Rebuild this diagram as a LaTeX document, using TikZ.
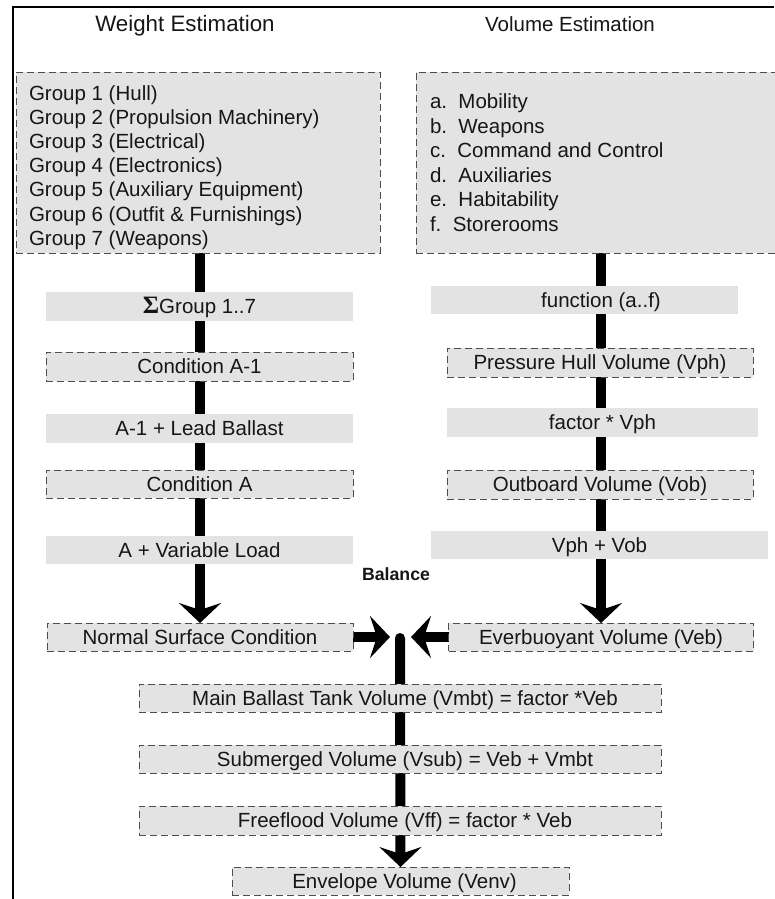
\documentclass[tikz,border=0pt]{standalone}
\usepackage{fontspec}
\setmainfont{Liberation Sans}
\newfontfamily\sigmafont{Liberation Serif}
\usetikzlibrary{arrows.meta,backgrounds}
\definecolor{boxgray}{HTML}{E3E3E3}
\definecolor{edgegray}{HTML}{4D4D4D}
\definecolor{ink}{HTML}{161616}
\newcommand{\bodyfont}{\fontsize{20.5}{24.3}\selectfont}
\tikzset{
  every node/.style={inner sep=0pt, outer sep=0pt, text=ink, font=\bodyfont},
  caption/.style={text height=18.55pt, text depth=4.35pt},
  flatbox/.style={caption, fill=boxgray},
  dashbox/.style={flatbox, draw=edgegray, line width=1pt, dash pattern=on 7pt off 4pt},
  listline/.style={anchor=base west},
  heading/.style={anchor=base},
  flow/.style={line width=10pt, -{Stealth[length=20pt,width=42pt,inset=7pt]}},
}
\begin{document}
\begin{tikzpicture}[x=1pt,y=-1pt]
\useasboundingbox (0,0) rectangle (774,899);

% frame
\draw[line width=2pt] (13,899) -- (13,7) -- (774,7);

% column headings
\node[heading, font=\fontsize{22.3}{26}\selectfont] (wtitle) at (185,32) {Weight Estimation};
\node[heading] (vtitle) at (570,32) {Volume Estimation};

% input lists
\node[dashbox, minimum width=364pt, minimum height=181pt] (wbox) at (198,162.5) {};
\node[dashbox, minimum width=360pt, minimum height=181pt] (vbox) at (596,162.5) {};
\foreach \txt [count=\i] in {Group 1 (Hull), Group 2 (Propulsion Machinery),
    Group 3 (Electrical), Group 4 (Electronics), Group 5 (Auxiliary Equipment),
    Group 6 (Outfit \& Furnishings), Group 7 (Weapons)}
  \node[listline] (grp\i) at (29,{100+24.2*(\i-1)}) {\txt};
\foreach \txt [count=\i] in {a.~~Mobility, b.~~Weapons, c.~~Command and Control,
    d.~~Auxiliaries, e.~~Habitability, f.~~Storerooms}
  \node[listline] (sys\i) at (430,{108.5+24.6*(\i-1)}) {\txt};

% weight chain
\node[flatbox, minimum width=307pt, minimum height=29pt] (sum) at (199.5,306.5)
  {{\sigmafont\bfseries\fontsize{25}{25}\selectfont Σ}Group 1..7};
\node[dashbox, minimum width=307pt, minimum height=29pt] (ca1) at (199.5,366.5) {Condition A-1};
\node[flatbox, minimum width=307pt, minimum height=29pt] (lead) at (199.5,428.5) {A-1 + Lead Ballast};
\node[dashbox, minimum width=307pt, minimum height=28pt] (ca) at (199.5,484) {Condition A};
\node[flatbox, minimum width=307pt, minimum height=28pt] (varl) at (199.5,550) {A + Variable Load};
\node[dashbox, minimum width=306pt, minimum height=28pt] (nsc) at (200,637) {Normal Surface Condition};

% volume chain
\node[flatbox, minimum width=307pt, minimum height=28pt] (fn) at (584.5,300) {};
\node[caption] (fntext) at ([xshift=16.5pt]fn.center) {function (a..f)};
\node[dashbox, minimum width=306pt, minimum height=29pt] (ph) at (600,362.5) {Pressure Hull Volume (Vph)};
\node[flatbox, minimum width=311pt, minimum height=29pt] (fv) at (602.5,422.5) {factor * Vph};
\node[dashbox, minimum width=306pt, minimum height=29pt] (ob) at (600,484.5) {Outboard Volume (Vob)};
\node[flatbox, minimum width=337pt, minimum height=28pt] (vv) at (599.5,545) {Vph + Vob};
\node[dashbox, minimum width=305pt, minimum height=28pt] (eb) at (601,637) {Everbuoyant Volume (Veb)};

\node[heading, font=\bfseries\fontsize{17.7}{20}\selectfont] (bal) at (396,580) {Balance};

% combined chain
\node[dashbox, minimum width=522pt, minimum height=28pt] (mb) at (400,698) {};
\node[caption] (mbtext) at ([xshift=5pt]mb.center) {Main Ballast Tank Volume (Vmbt) = factor *Veb};
\node[dashbox, minimum width=522pt, minimum height=28pt] (sv) at (400,759) {};
\node[caption] (svtext) at ([xshift=5pt]sv.center) {Submerged Volume (Vsub) = Veb + Vmbt};
\node[dashbox, minimum width=522pt, minimum height=29pt] (ff) at (400,820.5) {};
\node[caption] (fftext) at ([xshift=5pt]ff.center) {Freeflood Volume (Vff) = factor * Veb};
\node[dashbox, minimum width=337pt, minimum height=28pt] (env) at (400.5,881) {};
\node[caption] (envtext) at ([xshift=4pt]env.center) {Envelope Volume (Venv)};

\coordinate (tipL) at (390,637);
\coordinate (tipR) at (411,637);
\coordinate (merge) at (400,638);

% flow lines run behind the boxes
\begin{pgfonlayer}{background}
  \draw[flow] (nsc.north |- wbox.south) -- (nsc.north);
  \draw[flow] (eb.north |- vbox.south) -- (eb.north);
  \draw[flow] (nsc.east) -- (tipL);
  \draw[flow] (eb.west) -- (tipR);
  \draw[flow, line cap=round] (merge) -- (env.north);
\end{pgfonlayer}
\end{tikzpicture}
\end{document}
